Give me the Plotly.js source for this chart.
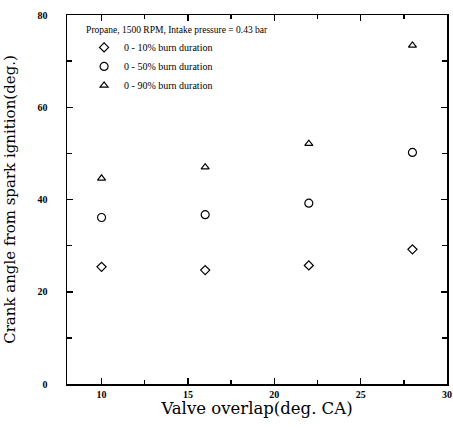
<!DOCTYPE html>
<html><head><meta charset="utf-8">
<script src="https://cdn.plot.ly/plotly-3.0.1.min.js"></script>
<style>body{margin:0;background:#fff}#c{width:453px;height:428px}</style>
</head><body><div id="c"></div>
<script>
const overlap = [10, 16, 22, 28];
const burn10 = [25.4, 24.7, 25.7, 29.2];
const burn50 = [36.1, 36.7, 39.2, 50.2];
const burn90 = [44.6, 47.0, 52.1, 73.4];
const headerText = "Propane, 1500 RPM, Intake pressure = 0.43 bar";
const legendLabels = ["0 - 10% burn duration", "0 - 50% burn duration", "0 - 90% burn duration"];

const serif = "Liberation Serif, Times New Roman, serif";
const wide = "DejaVu Serif, serif";
const mk = (sym, size) => ({symbol: sym, size: size, color: '#000', line: {color: '#000', width: 1.2}});
const traces = [
  {x: overlap, y: burn10, mode: 'markers', marker: mk('diamond-open', 7), name: legendLabels[0]},
  {x: overlap, y: burn50, mode: 'markers', marker: mk('circle-open', 8), name: legendLabels[1]},
  {x: overlap, y: burn90, mode: 'markers', marker: mk('triangle-up-open', 7), name: legendLabels[2]}
];

const layout = {
  width: 453, height: 428,
  margin: {l: 67, r: 6, t: 15, b: 44},
  paper_bgcolor: '#fff', plot_bgcolor: '#fff',
  showlegend: true,
  legend: {x: 0.045, y: 0.985, xanchor: 'left', yanchor: 'top', bgcolor: 'rgba(0,0,0,0)', borderwidth: 0,
    font: {family: serif, size: 10, color: '#000'}, tracegroupgap: 0, itemwidth: 30,
    title: {text: headerText, font: {family: serif, size: 9.5, color: '#000'}, side: 'top'}},
  xaxis: {range: [8, 30], dtick: 5, tick0: 0, ticks: 'inside', ticklen: 6, tickwidth: 1.5, tickcolor: '#000',
    minor: {dtick: 2.5, ticks: 'inside', ticklen: 4, tickwidth: 1.5, tickcolor: '#000'},
    showline: true, linecolor: '#000', linewidth: 1.5, mirror: 'ticks', showgrid: false, zeroline: false,
    tickfont: {family: serif, size: 10, color: '#000', weight: 'bold'},
    title: {text: 'Valve overlap(deg. CA)', font: {family: wide, size: 16.5, color: '#000'}, standoff: 3}},
  yaxis: {range: [0, 80], dtick: 20, ticks: 'inside', ticklen: 6, tickwidth: 1.5, tickcolor: '#000',
    minor: {dtick: 10, ticks: 'inside', ticklen: 5, tickwidth: 1.5, tickcolor: '#000'},
    showline: true, linecolor: '#000', linewidth: 1.5, mirror: 'ticks', showgrid: false, zeroline: false,
    ticklabelstandoff: 16,
    tickfont: {family: serif, size: 10, color: '#000', weight: 'bold'},
    title: {text: 'Crank angle from spark ignition(deg.)', font: {family: wide, size: 15, color: '#000'}, standoff: 18}}
};
Plotly.newPlot('c', traces, layout, {displayModeBar: false, staticPlot: true});
</script></body></html>
